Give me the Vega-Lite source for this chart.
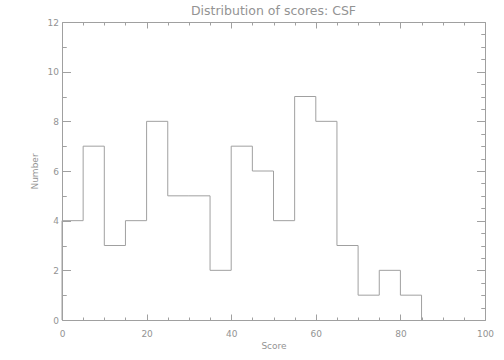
{
  "$schema": "https://vega.github.io/schema/vega-lite/v6.json",
  "width": 423,
  "height": 298,
  "autosize": {"type": "none"},
  "padding": {"left": 62, "top": 22, "right": 19, "bottom": 40},
  "background": "white",
  "config": {
    "view": {"stroke": null},
    "font": "DejaVu Sans",
    "axis": {
      "grid": false,
      "domainColor": "#a0a0a0",
      "tickColor": "#a0a0a0",
      "labelColor": "#939393",
      "titleColor": "#939393",
      "labelFont": "DejaVu Sans",
      "titleFont": "DejaVu Sans",
      "labelFontSize": 9,
      "titleFontSize": 9,
      "titleFontWeight": "normal",
      "labelOverlap": false,
      "labelFlush": false,
      "domainWidth": 1,
      "tickWidth": 1
    }
  },
  "title": {
    "text": "Distribution of scores: CSF",
    "fontSize": 12.5,
    "fontWeight": "normal",
    "font": "DejaVu Sans",
    "color": "#939393",
    "anchor": "middle",
    "offset": 1
  },
  "data": {
    "values": [
      {"score": 0, "count": 0},
      {"score": 0, "count": 4},
      {"score": 5, "count": 7},
      {"score": 10, "count": 3},
      {"score": 15, "count": 4},
      {"score": 20, "count": 8},
      {"score": 25, "count": 5},
      {"score": 30, "count": 5},
      {"score": 35, "count": 2},
      {"score": 40, "count": 7},
      {"score": 45, "count": 6},
      {"score": 50, "count": 4},
      {"score": 55, "count": 9},
      {"score": 60, "count": 8},
      {"score": 65, "count": 3},
      {"score": 70, "count": 1},
      {"score": 75, "count": 2},
      {"score": 80, "count": 1},
      {"score": 85, "count": 0}
    ]
  },
  "layer": [
    {
      "mark": {"type": "line", "interpolate": "step-after", "color": "#a0a0a0", "strokeWidth": 1},
      "encoding": {
        "x": {
          "field": "score",
          "type": "quantitative",
          "scale": {"domain": [0, 100], "nice": false, "zero": false},
          "axis": {
            "orient": "bottom",
            "title": "Score",
            "format": "d",
            "values": [0,5,10,15,20,25,30,35,40,45,50,55,60,65,70,75,80,85,90,95,100],
            "labelExpr": "datum.value % 20 === 0 ? datum.label : ''",
            "tickSize": {"condition": {"test": "datum.value % 20 === 0", "value": -6}, "value": -3},
            "labelPadding": 15,
            "titlePadding": 0
          }
        },
        "y": {
          "field": "count",
          "type": "quantitative",
          "scale": {"domain": [0, 12], "nice": false},
          "axis": {
            "orient": "left",
            "title": "Number",
            "format": "d",
            "values": [0,0.5,1,1.5,2,2.5,3,3.5,4,4.5,5,5.5,6,6.5,7,7.5,8,8.5,9,9.5,10,10.5,11,11.5,12],
            "labelExpr": "datum.value % 2 === 0 ? datum.label : ''",
            "tickSize": {"condition": {"test": "datum.value % 2 === 0", "value": -8.5}, "value": -4.25},
            "labelPadding": 12,
            "titlePadding": 8
          }
        }
      }
    },
    {
      "mark": {"type": "line", "opacity": 0},
      "encoding": {
        "x": {
          "field": "score",
          "type": "quantitative",
          "scale": {"domain": [0, 100], "nice": false, "zero": false},
          "axis": {
            "orient": "top",
            "title": null,
            "labels": false,
            "values": [0,5,10,15,20,25,30,35,40,45,50,55,60,65,70,75,80,85,90,95,100],
            "tickSize": {"condition": {"test": "datum.value % 20 === 0", "value": -6}, "value": -3}
          }
        },
        "y": {
          "field": "count",
          "type": "quantitative",
          "scale": {"domain": [0, 12], "nice": false},
          "axis": {
            "orient": "right",
            "title": null,
            "labels": false,
            "values": [0,0.5,1,1.5,2,2.5,3,3.5,4,4.5,5,5.5,6,6.5,7,7.5,8,8.5,9,9.5,10,10.5,11,11.5,12],
            "tickSize": {"condition": {"test": "datum.value % 2 === 0", "value": -8.5}, "value": -4.25}
          }
        }
      }
    }
  ],
  "resolve": {"axis": {"x": "independent", "y": "independent"}}
}
